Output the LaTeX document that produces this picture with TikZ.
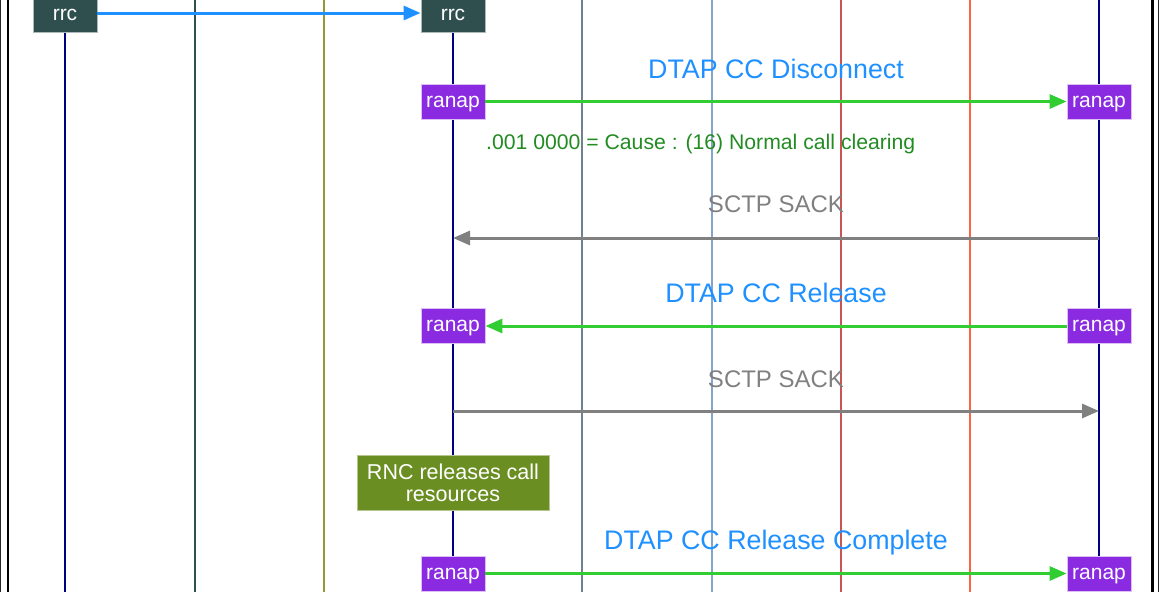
\documentclass[tikz,border=0pt]{standalone}
\usepackage{fontspec}
\setmainfont{Liberation Sans}
\usetikzlibrary{arrows.meta}

\definecolor{lnavy}{RGB}{0,0,128}
\definecolor{lslate}{RGB}{47,79,79}
\definecolor{lolive}{RGB}{150,150,50}
\definecolor{lgray}{RGB}{112,128,144}
\definecolor{lsteel}{RGB}{130,165,205}
\definecolor{lred}{RGB}{200,85,85}
\definecolor{ltomato}{RGB}{255,99,71}
\definecolor{rrcfill}{RGB}{47,79,79}
\definecolor{ranapfill}{RGB}{138,43,226}
\definecolor{notefill}{RGB}{107,142,35}
\definecolor{msgblue}{RGB}{30,144,255}
\definecolor{msggreen}{RGB}{50,205,50}
\definecolor{causegreen}{RGB}{34,139,34}
\definecolor{msggray}{RGB}{128,128,128}

\tikzset{
  lifeline/.style={line width=2.4pt, draw=lnavy},
  sideline/.style={line width=1.1pt},
  protobox/.style={text=white, font=\fontsize{21}{23}\selectfont,
    text height=11pt, text depth=0pt,
    minimum width=64pt, minimum height=35pt, inner sep=0pt, line width=0.8pt},
  rrcbox/.style={protobox, fill=rrcfill, draw=rrcfill!40!white},
  ranapbox/.style={protobox, fill=ranapfill, draw=ranapfill!30!white},
  notebox/.style={text=white, fill=notefill, draw=notefill!50!white, line width=0.8pt,
    font=\fontsize{21.5}{22}\selectfont, align=center,
    minimum width=192pt, minimum height=55pt, inner sep=0pt},
  msg/.style={line width=3pt, -{Triangle[length=17pt,width=14pt]}},
  msglabel/.style={anchor=base, font=\fontsize{26.8}{28}\selectfont},
  acklabel/.style={anchor=base, font=\fontsize{24}{26}\selectfont, text=msggray},
}

\begin{document}
\begin{tikzpicture}[x=1pt,y=-1pt]
\useasboundingbox (0,0) rectangle (1159,592);
\clip (0,0) rectangle (1159,592);

% frame
\draw[line width=1pt, black!85] (0.5,0) -- (0.5,592);
\draw[line width=2.6pt, black] (7.8,0) -- (7.8,592);
\draw[line width=2.6pt, black] (1152.4,0) -- (1152.4,592);
\draw[line width=1pt, black!85] (1158.3,0) -- (1158.3,592);

% lifelines
\foreach \n/\x/\c in {b/195/lslate, c/324/lolive, e/582/lgray, f/712/lsteel, g/841/lred, h/970/ltomato} {
  \coordinate (\n top) at (\x,0);
  \coordinate (\n bot) at (\x,592);
  \draw[sideline, draw=\c] (\n top) -- (\n bot);
}
\foreach \n/\x in {a/65, d/453, i/1099} {
  \coordinate (\n top) at (\x,0);
  \coordinate (\n bot) at (\x,592);
  \draw[lifeline] (\n top) -- (\n bot);
}

% rrc
\node[rrcbox] (rrcA) at (65,14.5) {rrc};
\node[rrcbox] (rrcB) at (453,14.5) {rrc};
\draw[msg, draw=msgblue, fill=msgblue] (rrcA.east |- 0,13) -- (rrcB.west |- 0,13);

% DTAP CC Disconnect
\node[msglabel, text=msgblue] (lblDisc) at (776,78) {DTAP CC Disconnect};
\node[ranapbox] (rnA) at (453,101.5) {ranap};
\node[ranapbox] (rnB) at (1099,101.5) {ranap};
\draw[msg, draw=msggreen, fill=msggreen] (rnA.east) -- (rnB.west);
\node[anchor=base west, text=causegreen, font=\fontsize{21.2}{24}\selectfont, inner sep=0pt]
  (cause) at (486,149) {.001 0000 = Cause : (16) Normal call clearing};

% SCTP SACK (to the left)
\node[acklabel] (lblAck1) at (776,212) {SCTP SACK};
\coordinate (ackAfrom) at (1099,238);
\coordinate (ackAto) at (453,238);
\draw[msg, draw=msggray, fill=msggray] (ackAfrom) -- (ackAto);

% DTAP CC Release
\node[msglabel, text=msgblue] (lblRel) at (776,302) {DTAP CC Release};
\node[ranapbox] (rnC) at (453,326) {ranap};
\node[ranapbox] (rnD) at (1099,326) {ranap};
\draw[msg, draw=msggreen, fill=msggreen] (rnD.west) -- (rnC.east);

% SCTP SACK (to the right)
\node[acklabel] (lblAck2) at (776,387) {SCTP SACK};
\coordinate (ackBfrom) at (453,411);
\coordinate (ackBto) at (1099,411);
\draw[msg, draw=msggray, fill=msggray] (ackBfrom) -- (ackBto);

% RNC note
\node[notebox] (note) at (453,482.5) {RNC releases call\\resources};

% DTAP CC Release Complete
\node[msglabel, text=msgblue] (lblComp) at (776,549) {DTAP CC Release Complete};
\node[ranapbox] (rnE) at (453,573.5) {ranap};
\node[ranapbox] (rnF) at (1099,573.5) {ranap};
\draw[msg, draw=msggreen, fill=msggreen] (rnE.east) -- (rnF.west);
\end{tikzpicture}
\end{document}
